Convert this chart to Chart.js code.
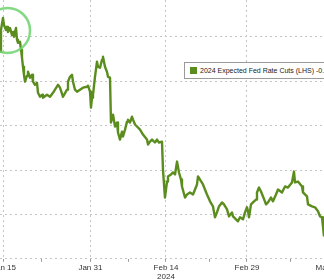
<!DOCTYPE html>
<html>
<head>
<meta charset="utf-8">
<script src="https://cdn.jsdelivr.net/npm/chart.js@4.4.1/dist/chart.umd.min.js"></script>
<style>
    html, body { margin: 0; padding: 0; background: #fff; overflow: hidden; }
    body { width: 324px; height: 279px; position: relative; }
    #wrap { position: absolute; left: -40px; top: 0; width: 404px; height: 283px; }
    #legend {
        position: absolute; left: 184px; top: 62px; width: 170px; height: 15px;
        border: 1px solid #9a9a9a; background: #fff; white-space: nowrap;
        font: 7px "Liberation Sans", Arial, sans-serif; color: #222;
        line-height: 15px; padding: 0 0 0 5px;
    }
    #legend .sw { display: inline-block; width: 7px; height: 7px; background: #5b8c1e; margin-right: 3px; vertical-align: -1px; }
</style>
</head>
<body>
<div id="wrap"><canvas id="cutsChart" width="404" height="283"></canvas></div>
<div id="legend"></div>

<script>
// day of year 2024 (Jan 15 = 15, Feb 29 = 60, Mar 15 = 75)
var days = [14.26, 14.44, 14.81, 15.00, 15.37, 15.56, 15.74, 16.11, 16.48, 16.67,
    16.85, 17.22, 17.41, 17.59, 17.96, 18.15, 18.33, 18.52, 18.70, 18.89,
    19.26, 19.44, 19.81, 20.19, 20.37, 20.74, 21.11, 21.30, 21.67, 22.04,
    22.22, 22.96, 23.52, 24.07, 24.44, 25.00, 25.37, 25.93, 26.67, 26.85,
    27.22, 27.59, 27.78, 28.15, 28.52, 29.07, 29.63, 30.37, 30.56, 30.93,
    31.11, 31.30, 31.48, 31.85, 32.22, 32.41, 32.78, 33.15, 33.33, 33.70,
    34.07, 34.26, 34.63, 34.81, 35.19, 35.56, 35.93, 36.11, 36.48, 36.85,
    37.04, 37.41, 37.78, 37.96, 38.33, 38.70, 38.89, 39.26, 39.63, 40.19,
    40.74, 41.48, 41.67, 42.04, 42.41, 42.96, 43.33, 43.70, 44.26, 44.44,
    44.81, 45.00, 45.19, 45.37, 45.93, 46.30, 46.67, 47.04, 47.41, 47.78,
    47.96, 48.52, 48.89, 49.44, 50.00, 50.74, 50.93, 51.30, 51.85, 52.59,
    53.15, 53.70, 54.07, 54.44, 54.81, 55.37, 55.74, 56.30, 56.67, 57.22,
    57.41, 57.96, 58.33, 58.70, 59.26, 59.63, 60.00, 60.19, 60.37, 60.74,
    61.11, 61.67, 61.85, 62.22, 62.59, 62.96, 63.52, 63.89, 64.44, 64.81,
    65.37, 65.74, 66.48, 67.04, 67.59, 68.33, 68.70, 68.89, 69.44, 70.19,
    70.37, 71.11, 71.30, 72.04, 72.59, 73.15, 73.52, 73.89, 74.07, 74.26];

var cuts = [-1.533, -1.631, -1.685, -1.654, -1.631, -1.645, -1.622, -1.640, -1.609, -1.622,
    -1.600, -1.640, -1.587, -1.573, -1.578, -1.542, -1.506, -1.465, -1.429, -1.398,
    -1.425, -1.443, -1.416, -1.429, -1.398, -1.384, -1.393, -1.348, -1.330, -1.339,
    -1.326, -1.339, -1.330, -1.348, -1.362, -1.384, -1.371, -1.330, -1.362, -1.398,
    -1.420, -1.429, -1.398, -1.362, -1.353, -1.362, -1.371, -1.375, -1.380, -1.353,
    -1.281, -1.326, -1.339, -1.420, -1.488, -1.465, -1.461, -1.497, -1.510, -1.465,
    -1.443, -1.420, -1.416, -1.214, -1.249, -1.196, -1.214, -1.169, -1.137, -1.173,
    -1.151, -1.182, -1.218, -1.227, -1.214, -1.240, -1.227, -1.205, -1.196, -1.182,
    -1.160, -1.137, -1.115, -1.128, -1.137, -1.124, -1.137, -1.124, -1.128, -1.002,
    -0.876, -0.912, -0.948, -0.971, -0.980, -0.989, -0.980, -1.038, -0.989, -0.957,
    -0.926, -0.876, -0.890, -0.899, -0.890, -0.935, -0.971, -0.957, -0.935, -0.890,
    -0.859, -0.836, -0.787, -0.809, -0.836, -0.854, -0.845, -0.823, -0.791, -0.809,
    -0.791, -0.778, -0.769, -0.787, -0.778, -0.809, -0.832, -0.814, -0.787, -0.845,
    -0.854, -0.867, -0.899, -0.921, -0.903, -0.881, -0.845, -0.854, -0.876, -0.859,
    -0.890, -0.912, -0.899, -0.926, -0.921, -0.944, -0.993, -0.944, -0.948, -0.926,
    -0.899, -0.881, -0.845, -0.836, -0.832, -0.814, -0.791, -0.787, -0.746, -0.701];

var seriesName = '2024 Expected Fed Rate Cuts (LHS)';

// x axis ticks: labelled ones plus minor weekly marks
var tickDays = [15, 22, 31, 38, 45, 53, 60, 68, 75];
var tickLabels = { 15: 'Jan 15', 31: 'Jan 31', 45: ['Feb 14', '2024'], 60: 'Feb 29', 75: 'Mar 15' };
var gridValues = [-1.6, -1.4, -1.2, -1.0, -0.8, -0.6];

// green circle highlight (centre in data units)
var ringDay = 15.65, ringValue = -1.629, ringRadius = 22.5;

var GRID = '#c4c4c4';
var LINE = '#5b8c1e';

document.addEventListener('DOMContentLoaded', function () {
    var points = days.map(function (d, i) { return { x: d, y: cuts[i] }; });

    var ringPlugin = {
        id: 'ring',
        afterDatasetsDraw: function (chart) {
            var c = chart.ctx;
            var cx = chart.scales.x.getPixelForValue(ringDay);
            var cy = chart.scales.y.getPixelForValue(ringValue);
            c.save();
            c.strokeStyle = 'rgba(110, 210, 110, 0.85)';
            c.lineWidth = 2.5;
            c.beginPath();
            c.arc(cx, cy, ringRadius, 0, Math.PI * 2);
            c.stroke();
            c.restore();
        }
    };

    new Chart(document.getElementById('cutsChart').getContext('2d'), {
        type: 'line',
        data: {
            datasets: [{
                label: seriesName,
                data: points,
                borderColor: LINE,
                borderWidth: 2.4,
                borderJoinStyle: 'round',
                tension: 0,
                pointRadius: 0,
                fill: false
            }]
        },
        options: {
            responsive: false,
            animation: false,
            layout: { padding: { left: 40, right: 40, top: 0, bottom: 0 } },
            plugins: { legend: { display: false }, tooltip: { enabled: false } },
            scales: {
                x: {
                    type: 'linear',
                    min: 14.26,
                    max: 74.26,
                    afterBuildTicks: function (axis) {
                        axis.ticks = tickDays.map(function (v) { return { value: v }; });
                    },
                    ticks: {
                        autoSkip: false,
                        maxRotation: 0,
                        padding: 1,
                        color: '#333',
                        font: { family: '"Liberation Sans", Arial, sans-serif', size: 8, lineHeight: 1.2 },
                        callback: function (v) { return tickLabels[v] || ''; }
                    },
                    grid: {
                        color: function (ctx) {
                            return ctx.tick && tickLabels[ctx.tick.value] ? GRID : 'rgba(0,0,0,0)';
                        },
                        tickColor: '#999',
                        tickLength: 3,
                        lineWidth: 1
                    },
                    border: { display: false, dash: [2, 3] }
                },
                y: {
                    reverse: true,
                    min: -1.766,
                    max: -0.6,
                    afterBuildTicks: function (axis) {
                        axis.ticks = gridValues.map(function (v) { return { value: v }; });
                    },
                    ticks: { display: false },
                    grid: { color: GRID, drawTicks: false, lineWidth: 1 },
                    border: { display: false, dash: [2, 3] }
                }
            }
        },
        plugins: [ringPlugin]
    });

    var last = cuts[cuts.length - 1];
    document.getElementById('legend').innerHTML =
        '<span class="sw"></span>' + seriesName + ' ' + last.toFixed(2);
});
</script>
</body>
</html>
